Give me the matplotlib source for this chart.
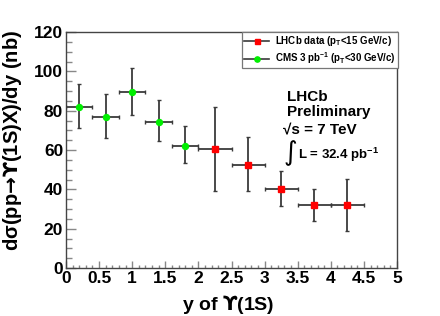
import matplotlib
matplotlib.use("Agg")
import matplotlib.pyplot as plt
from matplotlib.lines import Line2D
from matplotlib.ticker import MultipleLocator

plt.rcParams['font.family'] = ['Liberation Sans', 'DejaVu Sans']
plt.rcParams['font.weight'] = 'bold'
plt.rcParams['mathtext.default'] = 'regular'
plt.rcParams['mathtext.fontset'] = 'custom'
plt.rcParams['mathtext.sf'] = 'DejaVu Sans:bold'
plt.rcParams['mathtext.rm'] = 'Liberation Sans:bold'

# CMS data (green)
cms_y = [0.2, 0.6, 1.0, 1.4, 1.8]
cms_xerr = [0.2, 0.2, 0.2, 0.2, 0.2]
cms_val = [81.8, 76.7, 89.4, 74.2, 62.2]
cms_up = [11.7, 11.7, 12.5, 11.3, 10.0]
cms_dn = [10.6, 10.8, 11.8, 9.8, 9.0]

# LHCb data (red)
lhcb_y = [2.25, 2.75, 3.25, 3.75, 4.25]
lhcb_xerr = [0.25, 0.25, 0.25, 0.25, 0.25]
lhcb_val = [60.3, 52.6, 40.2, 31.9, 31.8]
lhcb_up = [21.5, 13.8, 9.1, 8.2, 13.3]
lhcb_dn = [21.1, 13.7, 8.9, 7.9, 13.2]

x_ticks = [0, 0.5, 1, 1.5, 2, 2.5, 3, 3.5, 4, 4.5, 5]
x_tick_labels = ['0', '0.5', '1', '1.5', '2', '2.5', '3', '3.5', '4', '4.5', '5']

fig = plt.figure(figsize=(4.4, 3.16), dpi=100)
ax = fig.add_axes([66/440, 1-268/316, (397-66)/440, (268-32)/316])

ecol = '#3a3a3a'
ax.errorbar(cms_y, cms_val, xerr=cms_xerr, yerr=[cms_dn, cms_up], fmt='o',
            color=ecol, ecolor=ecol, elinewidth=1.3, capsize=1.2,
            mfc='#00ee00', mec='#00ee00', ms=4.3, zorder=3)
ax.errorbar(lhcb_y, lhcb_val, xerr=lhcb_xerr, yerr=[lhcb_dn, lhcb_up], fmt='s',
            color=ecol, ecolor=ecol, elinewidth=1.3, capsize=1.2,
            mfc='#ff0000', mec='#ff0000', ms=4.1, zorder=3)

ax.set_xlim(0, 5)
ax.set_ylim(0, 120)
ax.xaxis.set_minor_locator(MultipleLocator(0.1))
ax.yaxis.set_major_locator(MultipleLocator(20))
ax.yaxis.set_minor_locator(MultipleLocator(5))
ax.set_xticks(x_ticks)
ax.set_xticklabels(x_tick_labels)
ax.tick_params(which='both', direction='in', color='#888888', width=1,
               top=False, right=False, labelsize=12.5)
ax.tick_params(axis='y', which='major', length=7, pad=2)
ax.tick_params(axis='y', which='minor', length=4.5)
ax.tick_params(axis='x', which='major', length=5, pad=2)
ax.tick_params(axis='x', which='minor', length=2.5)
for s in ax.spines.values():
    s.set_color('#444444')
    s.set_linewidth(1)

ax.set_xlabel('y of $\\mathsf{\u03d2}$(1S)', fontsize=14, fontweight='bold')
ax.set_ylabel('d\u03c3(pp$\\mathsf{\u2192\u03d2}$(1S)X)/dy (nb)', fontsize=14.5,
              fontweight='bold')
ax.yaxis.set_label_coords(-0.128, 0.54)
ax.xaxis.set_label_coords(0.49, -0.108)

handles = [
    Line2D([], [], color=ecol, lw=1.2, marker='s', mfc='#ff0000', mec='#ff0000', ms=3.6),
    Line2D([], [], color=ecol, lw=1.2, marker='o', mfc='#00ee00', mec='#00ee00', ms=3.8),
]
labels = ['LHCb data (p$_{T}$<15 GeV/c)', 'CMS 3 pb$^{-1}$ (p$_{T}$<30 GeV/c)']
leg = ax.legend(handles, labels, loc='upper left',
                bbox_to_anchor=(242/440, 1-32/316), bbox_transform=fig.transFigure,
                fancybox=False, edgecolor='#777777', framealpha=1,
                prop={'size': 7, 'weight': 'bold'}, handlelength=2.6,
                handletextpad=0.6, borderpad=0.2, labelspacing=0.25,
                borderaxespad=0)
leg.get_frame().set_linewidth(0.9)

ax.text(287/440, 1-97/316, 'LHCb', transform=fig.transFigure, fontsize=11,
        fontweight='bold', va='center', ha='left')
ax.text(287/440, 1-112/316, 'Preliminary', transform=fig.transFigure, fontsize=11,
        fontweight='bold', va='center', ha='left')
ax.text(283/440, 1-129/316, '\u221as = 7 TeV', transform=fig.transFigure, fontsize=11,
        fontweight='bold', va='center', ha='left')
ax.text(284/440, 1-153/316, '\u222b', transform=fig.transFigure, fontsize=19,
        fontweight='normal', va='center', ha='left', family=['DejaVu Sans'])
ax.text(298/440, 1-155/316, 'L = 32.4 pb$^{-1}$', transform=fig.transFigure, fontsize=9.5,
        fontweight='bold', va='center', ha='left')

fig.savefig('out.png', dpi=100)
